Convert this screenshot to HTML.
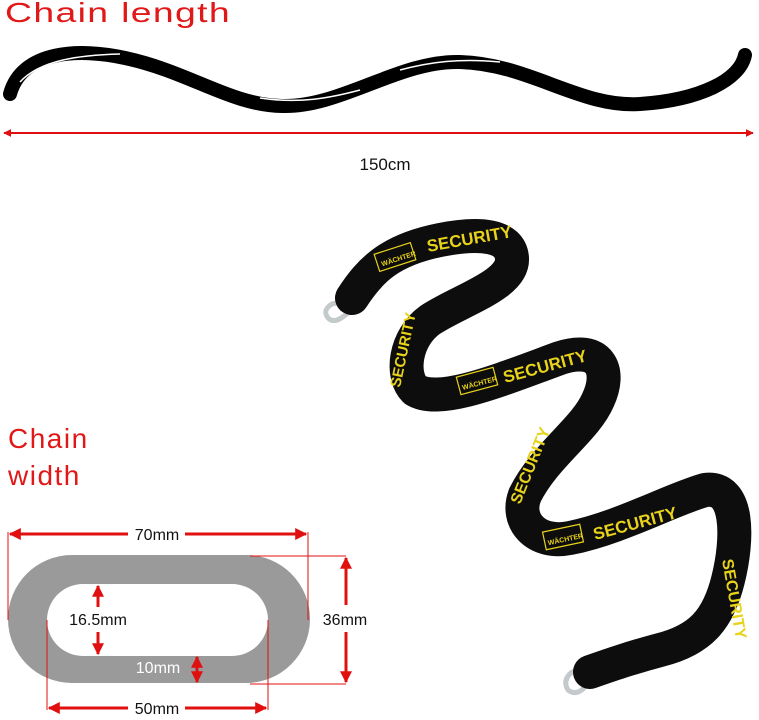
<!DOCTYPE html>
<html><head><meta charset="utf-8"><style>
html,body{margin:0;padding:0;background:#fff;}
svg{display:block;}
</style></head><body>
<svg width="759" height="720" viewBox="0 0 759 720" xmlns="http://www.w3.org/2000/svg" font-family="Liberation Sans, sans-serif">
<defs>
<marker id="ar" viewBox="0 0 10 10" refX="9" refY="5" markerWidth="4" markerHeight="4" orient="auto-start-reverse"><path d="M0,0 L10,5 L0,10 z" fill="#e01010"/></marker>
</defs>
<!-- Titles -->
<text x="5" y="22" font-size="28" fill="#e01818" letter-spacing="1" textLength="226" lengthAdjust="spacingAndGlyphs">Chain length</text>
<text x="8" y="448" font-size="28" fill="#e01818" letter-spacing="1.5">Chain</text>
<text x="8" y="485" font-size="28" fill="#e01818" letter-spacing="1.5">width</text>

<!-- Wave -->
<path d="M10,94 C22,50 80,48 125,58 C190,72 230,105 282,106 C340,108 400,60 460,62 C530,64 580,108 640,104 C700,100 740,80 745,55" fill="none" stroke="#000" stroke-width="14" stroke-linecap="round"/>
<path d="M20,82 C40,60 80,55 120,54 M260,98 C300,104 330,98 360,90 M400,70 C430,62 460,58 500,62" fill="none" stroke="#fff" stroke-width="1.5"/>
<line x1="4" y1="133" x2="753" y2="133" stroke="#e01010" stroke-width="2" marker-start="url(#ar)" marker-end="url(#ar)"/>
<text x="385" y="170" font-size="17" text-anchor="middle" fill="#111">150cm</text>

<!-- Link -->
<path fill="#9a9a9a" fill-rule="evenodd" d="M72,555 H246 A64,64 0 0 1 246,683 H72 A64,64 0 0 1 72,555 Z M83,584 H232 A36,36 0 0 1 232,656 H83 A36,36 0 0 1 83,584 Z"/>
<g stroke="#e01010" fill="none">
<line x1="8" y1="532" x2="8" y2="620" stroke-width="1"/>
<line x1="308" y1="532" x2="308" y2="620" stroke-width="1"/>
<line x1="47" y1="620" x2="47" y2="710" stroke-width="1"/>
<line x1="268" y1="620" x2="268" y2="710" stroke-width="1"/>
<line x1="250" y1="556" x2="346" y2="556" stroke-width="1"/>
<line x1="250" y1="684" x2="346" y2="684" stroke-width="1"/>
<line x1="10" y1="534" x2="128" y2="534" stroke-width="3" marker-start="url(#ar)"/>
<line x1="185" y1="534" x2="306" y2="534" stroke-width="3" marker-end="url(#ar)"/>
<line x1="49" y1="708" x2="128" y2="708" stroke-width="3" marker-start="url(#ar)"/>
<line x1="185" y1="708" x2="266" y2="708" stroke-width="3" marker-end="url(#ar)"/>
<line x1="346" y1="558" x2="346" y2="605" stroke-width="3" marker-start="url(#ar)"/>
<line x1="346" y1="632" x2="346" y2="682" stroke-width="3" marker-end="url(#ar)"/>
<line x1="98" y1="586" x2="98" y2="607" stroke-width="3" marker-start="url(#ar)"/>
<line x1="98" y1="632" x2="98" y2="654" stroke-width="3" marker-end="url(#ar)"/>
<line x1="197" y1="657" x2="197" y2="682" stroke-width="3" marker-start="url(#ar)" marker-end="url(#ar)"/>
</g>
<g font-size="16" fill="#111" text-anchor="middle">
<text x="157" y="540">70mm</text>
<text x="157" y="714">50mm</text>
<text x="98" y="625">16.5mm</text>
<text x="345" y="625">36mm</text>
<text x="158" y="673" fill="#fff">10mm</text>
</g>

<!-- Chain -->
<g fill="none" stroke-linecap="round" stroke-linejoin="round">
<path d="M350,300 L332,304 Q322,310 328,318 Q334,324 344,316 L352,310" stroke="#c4c9cc" stroke-width="5"/>
<path d="M584,668 L572,672 Q562,680 568,690 Q576,696 584,688 L592,678" stroke="#c4c9cc" stroke-width="5"/>
<path d="M352,298 C370,270 390,250 440,240 C480,232 510,235 512,258 C514,285 460,300 430,320 C405,338 400,375 415,390 C440,405 500,380 560,358 C600,345 612,370 598,400 C585,430 545,455 525,495 C515,520 535,545 570,538 C620,528 670,500 705,490 C740,485 738,540 728,580 C718,620 700,640 660,650 C630,658 610,665 590,672" stroke="#0d0d0d" stroke-width="34"/>
</g>
<g fill="#e8d21a" font-weight="bold" font-family="Liberation Sans, sans-serif">
<text x="428" y="252" font-size="17" transform="rotate(-10 428 252)">SECURITY</text>
<text x="505" y="383" font-size="17" transform="rotate(-15 505 383)">SECURITY</text>
<text x="595" y="540" font-size="17" transform="rotate(-15 595 540)">SECURITY</text>
<text x="400" y="388" font-size="15" transform="rotate(-78 400 388)">SECURITY</text>
<text x="520" y="505" font-size="16" transform="rotate(-68 520 505)">SECURITY</text>
<text x="722" y="560" font-size="16" transform="rotate(80 722 560)">SECURITY</text>
<g font-size="7">
<rect x="376" y="248" width="38" height="18" fill="none" stroke="#e8d21a" stroke-width="1.2" transform="rotate(-18 395 257)"/>
<text x="380" y="262" transform="rotate(-18 395 257)">WÄCHTER</text>
<rect x="458" y="372" width="38" height="18" fill="none" stroke="#e8d21a" stroke-width="1.2" transform="rotate(-15 477 381)"/>
<text x="461" y="386" transform="rotate(-15 477 381)">WÄCHTER</text>
<rect x="544" y="528" width="38" height="18" fill="none" stroke="#e8d21a" stroke-width="1.2" transform="rotate(-12 563 537)"/>
<text x="547" y="542" transform="rotate(-12 563 537)">WÄCHTER</text>
</g>
</g>
</svg>
</body></html>
